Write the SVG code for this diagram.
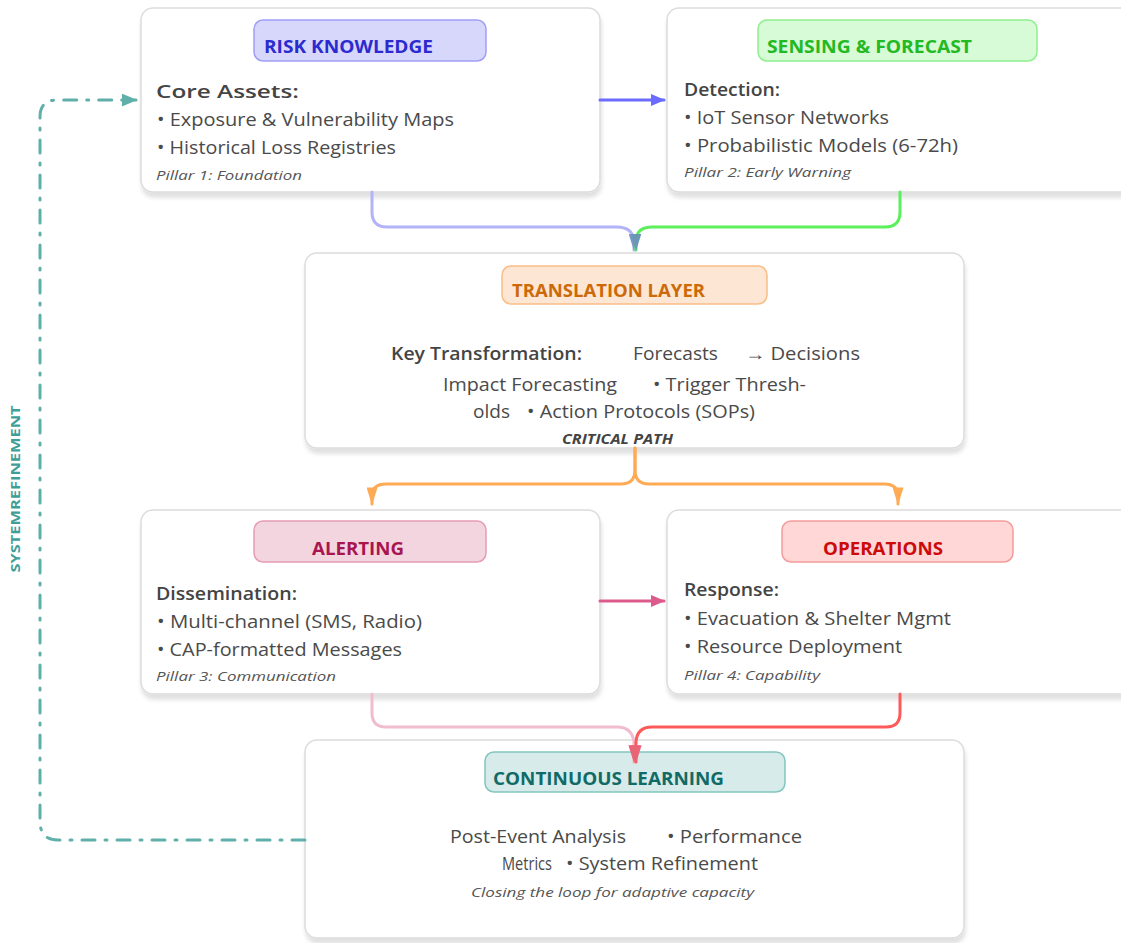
<svg xmlns="http://www.w3.org/2000/svg" width="1121" height="943" viewBox="0 0 1121 943">
<defs>
<filter id="sh" x="-5%" y="-5%" width="110%" height="120%">
<feDropShadow dx="1" dy="5" stdDeviation="2" flood-color="#000" flood-opacity="0.12"/>
</filter>
<marker id="aBlue" viewBox="0 0 12 10" refX="11" refY="5" markerWidth="15" markerHeight="12" orient="auto" markerUnits="userSpaceOnUse"><path d="M0,0 L12,5 L0,10 z" fill="#6b6bff"/></marker>
<marker id="aPink" viewBox="0 0 12 10" refX="11" refY="5" markerWidth="15" markerHeight="12" orient="auto" markerUnits="userSpaceOnUse"><path d="M0,0 L12,5 L0,10 z" fill="#dd5b8c"/></marker>
<marker id="aLav" viewBox="0 0 16 10" refX="15" refY="5" markerWidth="17" markerHeight="11" orient="auto" markerUnits="userSpaceOnUse"><path d="M0,0 L16,5 L0,10 z" fill="#7f95c8"/></marker>
<marker id="aGreen" viewBox="0 0 16 10" refX="15" refY="5" markerWidth="17" markerHeight="11" orient="auto" markerUnits="userSpaceOnUse"><path d="M0,0 L16,5 L0,10 z" fill="#6a98b4"/></marker>
<marker id="aOrange" viewBox="0 0 16 10" refX="15" refY="5" markerWidth="18" markerHeight="11" orient="auto" markerUnits="userSpaceOnUse"><path d="M0,0 L16,5 L0,10 z" fill="#ffaa55"/></marker>
<marker id="aRed" viewBox="0 0 16 10" refX="15" refY="5" markerWidth="18" markerHeight="12" orient="auto" markerUnits="userSpaceOnUse"><path d="M0,0 L16,5 L0,10 z" fill="#ea6478"/></marker>
<marker id="aTeal" viewBox="0 0 12 10" refX="11" refY="5" markerWidth="16" markerHeight="13" orient="auto" markerUnits="userSpaceOnUse"><path d="M0,0 L12,5 L0,10 z" fill="#5fb0aa"/></marker>
</defs>
<style>
text{font-family:"Open Sans","Noto Sans","Liberation Sans",sans-serif;}
.card{fill:#fff;stroke:#dcdcdc;stroke-width:1.5;filter:url(#sh);}
.hd{font-weight:bold;font-size:18px;}
.lbl{font-weight:600;font-size:18px;fill:#444;}
.it{font-size:18px;fill:#4a4a4a;}
.pl{font-style:italic;font-size:13.5px;fill:#555;}
.c{fill:none;stroke-width:3;stroke-linecap:round;}
</style>

<g id="risk-knowledge">
<rect class="card" x="141" y="8" width="459" height="184" rx="12"/>
<rect x="254" y="20" width="232" height="41" rx="9" fill="#d7d7fb" stroke="#9e9ef6" stroke-width="1.5"/>
<text class="hd" x="264" y="53" fill="#2b2bcf" textLength="169" lengthAdjust="spacingAndGlyphs">RISK KNOWLEDGE</text>
<text class="lbl" x="156" y="98" textLength="143" lengthAdjust="spacingAndGlyphs">Core Assets:</text>
<text class="it" x="157" y="126" textLength="297" lengthAdjust="spacingAndGlyphs">• Exposure &amp; Vulnerability Maps</text>
<text class="it" x="157" y="154" textLength="239" lengthAdjust="spacingAndGlyphs">• Historical Loss Registries</text>
<text class="pl" x="156" y="180" textLength="146" lengthAdjust="spacingAndGlyphs">Pillar 1: Foundation</text>
</g>

<g id="sensing-forecast">
<rect class="card" x="667" y="8" width="470" height="184" rx="12"/>
<rect x="758" y="20" width="279" height="41" rx="9" fill="#d6fbd6" stroke="#8ef08e" stroke-width="1.5"/>
<text class="hd" x="767" y="53" fill="#22b922" textLength="205" lengthAdjust="spacingAndGlyphs">SENSING &amp; FORECAST</text>
<text class="lbl" x="684" y="96" textLength="96" lengthAdjust="spacingAndGlyphs">Detection:</text>
<text class="it" x="684" y="124" textLength="205" lengthAdjust="spacingAndGlyphs">• IoT Sensor Networks</text>
<text class="it" x="684" y="152" textLength="274" lengthAdjust="spacingAndGlyphs">• Probabilistic Models (6-72h)</text>
<text class="pl" x="684" y="177" textLength="167" lengthAdjust="spacingAndGlyphs">Pillar 2: Early Warning</text>
</g>

<g id="translation-layer">
<rect class="card" x="305" y="253" width="659" height="195" rx="12"/>
<rect x="502" y="266" width="265" height="38" rx="9" fill="#fee6d4" stroke="#f9bd86" stroke-width="1.5"/>
<text class="hd" x="512" y="297" fill="#cc6a0a" textLength="193" lengthAdjust="spacingAndGlyphs">TRANSLATION LAYER</text>
<text class="lbl" x="391" y="360" textLength="191" lengthAdjust="spacingAndGlyphs">Key Transformation:</text>
<text class="it" x="633" y="360" textLength="85" lengthAdjust="spacingAndGlyphs">Forecasts</text>
<text class="it" x="745" y="360" textLength="115" lengthAdjust="spacingAndGlyphs">→ Decisions</text>
<text class="it" x="443" y="391" textLength="174" lengthAdjust="spacingAndGlyphs">Impact Forecasting</text>
<text class="it" x="653" y="391" textLength="153" lengthAdjust="spacingAndGlyphs">• Trigger Thresh-</text>
<text class="it" x="473" y="418" textLength="37" lengthAdjust="spacingAndGlyphs">olds</text>
<text class="it" x="527" y="418" textLength="228" lengthAdjust="spacingAndGlyphs">• Action Protocols (SOPs)</text>
<text x="562" y="444" font-weight="bold" font-style="italic" font-size="13.5" fill="#444" textLength="111" lengthAdjust="spacingAndGlyphs">CRITICAL PATH</text>
</g>

<g id="alerting">
<rect class="card" x="141" y="510" width="459" height="184" rx="12"/>
<rect x="254" y="521" width="232" height="41" rx="9" fill="#f3d5df" stroke="#e59cb6" stroke-width="1.5"/>
<text class="hd" x="312" y="555" fill="#a8154f" textLength="92" lengthAdjust="spacingAndGlyphs">ALERTING</text>
<text class="lbl" x="156" y="600" textLength="141" lengthAdjust="spacingAndGlyphs">Dissemination:</text>
<text class="it" x="157" y="628" textLength="265" lengthAdjust="spacingAndGlyphs">• Multi-channel (SMS, Radio)</text>
<text class="it" x="157" y="656" textLength="245" lengthAdjust="spacingAndGlyphs">• CAP-formatted Messages</text>
<text class="pl" x="156" y="681" textLength="180" lengthAdjust="spacingAndGlyphs">Pillar 3: Communication</text>
</g>

<g id="operations">
<rect class="card" x="667" y="510" width="470" height="184" rx="12"/>
<rect x="782" y="521" width="231" height="41" rx="9" fill="#ffd7d7" stroke="#f49c9c" stroke-width="1.5"/>
<text class="hd" x="823" y="555" fill="#cc0a0a" textLength="120" lengthAdjust="spacingAndGlyphs">OPERATIONS</text>
<text class="lbl" x="684" y="596" textLength="95" lengthAdjust="spacingAndGlyphs">Response:</text>
<text class="it" x="684" y="625" textLength="267" lengthAdjust="spacingAndGlyphs">• Evacuation &amp; Shelter Mgmt</text>
<text class="it" x="684" y="653" textLength="218" lengthAdjust="spacingAndGlyphs">• Resource Deployment</text>
<text class="pl" x="684" y="680" textLength="136" lengthAdjust="spacingAndGlyphs">Pillar 4: Capability</text>
</g>

<g id="continuous-learning">
<rect class="card" x="305" y="740" width="659" height="198" rx="12"/>
<rect x="485" y="752" width="300" height="40" rx="9" fill="#d6ebea" stroke="#82c5c0" stroke-width="1.5"/>
<text class="hd" x="493" y="785" fill="#116a66" textLength="231" lengthAdjust="spacingAndGlyphs">CONTINUOUS LEARNING</text>
<text class="it" x="450" y="843" textLength="176" lengthAdjust="spacingAndGlyphs">Post-Event Analysis</text>
<text class="it" x="667" y="843" textLength="135" lengthAdjust="spacingAndGlyphs">• Performance</text>
<text class="it" x="502" y="870" textLength="50" lengthAdjust="spacingAndGlyphs">Metrics</text>
<text class="it" x="566" y="870" textLength="192" lengthAdjust="spacingAndGlyphs">• System Refinement</text>
<text class="pl" x="471" y="897" textLength="283" lengthAdjust="spacingAndGlyphs">Closing the loop for adaptive capacity</text>
</g>

<g id="connectors">
<path class="c" d="M372,192 V212 Q372,227 387,227 H617 Q632,227 634,240 V250" stroke="#b3b3f7" marker-end="url(#aLav)"/>
<path class="c" d="M900,192 V212 Q900,227 885,227 H652 Q637,227 636,240 V250" stroke="#5cef5c" marker-end="url(#aGreen)"/>
<path class="c" d="M600,100 H664" stroke="#6b6bff" marker-end="url(#aBlue)"/>
<path class="c" d="M635,448 V470 Q635,484 621,484 H386 Q372,484 372,496 V504" stroke="#ffaa55" marker-end="url(#aOrange)"/>
<path class="c" d="M635,448 V470 Q635,484 649,484 H884 Q898,484 898,496 V504" stroke="#ffaa55" marker-end="url(#aOrange)"/>
<path class="c" d="M600,601 H664" stroke="#dd5b8c" marker-end="url(#aPink)"/>
<path class="c" d="M372,694 V713 Q372,727 386,727 H617 Q632,727 634,742 V762" stroke="#f2bccf" marker-end="url(#aRed)"/>
<path class="c" d="M900,694 V713 Q900,727 886,727 H652 Q637,727 636,742 V762" stroke="#ff5a5a" marker-end="url(#aRed)"/>
<path class="c" d="M305,840 H58 Q41,840 40,823 V117 Q40,100 57,100 H136" stroke="#5fb0aa" stroke-dasharray="13,10,2,10" marker-end="url(#aTeal)"/>
<text x="20" y="489" transform="rotate(-90 20 489)" text-anchor="middle" font-weight="bold" font-size="13" fill="#3f9f98" textLength="167" lengthAdjust="spacingAndGlyphs">SYSTEMREFINEMENT</text>
</g>
</svg>
